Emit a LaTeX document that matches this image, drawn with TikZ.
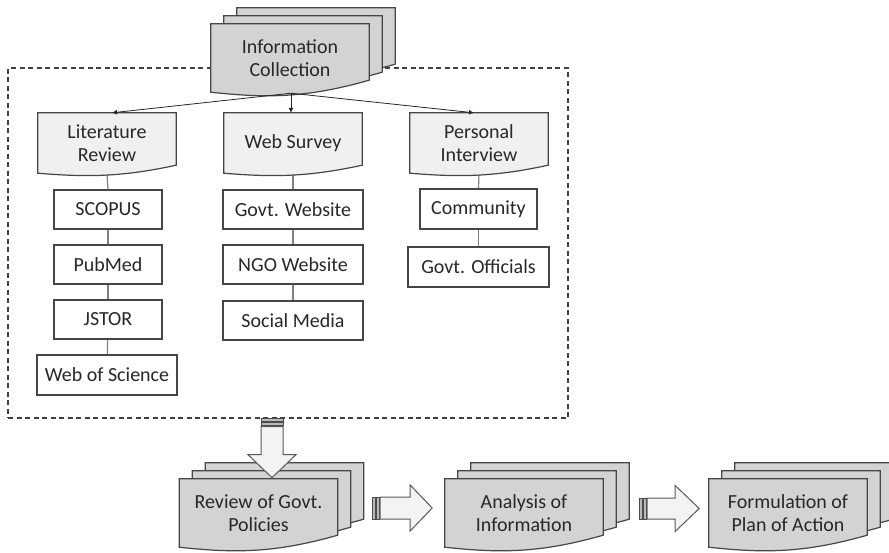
\documentclass[tikz,border=0pt]{standalone}
\usepackage{fontspec}
\setmainfont{Carlito}
\usetikzlibrary{calc,backgrounds,arrows.meta}
\definecolor{stackgray}{RGB}{211,211,211}
\definecolor{docgray}{RGB}{240,240,240}
\definecolor{arrowfill}{RGB}{243,243,243}
\definecolor{edgegray}{RGB}{70,70,70}
\definecolor{conngray}{RGB}{128,128,128}
\definecolor{txtgray}{RGB}{40,40,40}
\newcommand\txtfont{\fontsize{20}{23}\selectfont}
\tikzset{
  docline/.style={draw=edgegray,line width=1.2pt},
  textnode/.style={inner sep=0pt,align=center,font=\txtfont,text=txtgray},
  stacknode/.style={textnode,minimum width=158pt,minimum height=68pt},
  topdoc/.style={textnode,minimum width=138pt,minimum height=60pt},
  boxnode/.style={textnode,draw=edgegray,line width=1.2pt,fill=white,minimum width=#1,minimum height=39pt},
  conn/.style={draw=conngray,line width=1.2pt},
  feed/.style={draw=black!85,line width=0.8pt,-{Latex[length=5pt,width=5pt]}},
  bigarrow/.style={draw=black!65,line width=1pt,fill=arrowfill,line join=miter},
  stripe/.style={draw=black!70,line width=0.6pt,fill=gray!55},
  dashbox/.style={draw=black!75,line width=1.3pt,dash pattern=on 5pt off 3.5pt,minimum width=560pt,minimum height=350pt,inner sep=0pt}
}
% #1 node, #2 fill, #3 rise of right corner, #4 dx, #5 dy
\newcommand\docshape[5]{%
  \path[docline,fill=#2]
    ($(#1.north west)+(#4,#5)$) -- ($(#1.north east)+(#4,#5)$)
    -- ($(#1.south east)+(#4,#5-#3)$)
    .. controls ($(#1.south west)!0.6!(#1.south east)+(#4,#5+0.5*#3)$)
    and ($(#1.south west)!0.35!(#1.south east)+(#4,#5+0.5*#3)$)
    .. ($(#1.south west)+(#4,#5)$) -- cycle;}
\newcommand\stackshape[1]{%
  \docshape{#1}{stackgray}{12}{26}{-16}%
  \docshape{#1}{stackgray}{12}{13}{-8}%
  \docshape{#1}{stackgray}{12}{0}{0}}
\begin{document}
\begin{tikzpicture}[x=1pt,y=-1pt]
\useasboundingbox (0,0) rectangle (889,552);
% stacked documents
\node[stacknode] (info) at (290,58) {Information\\Collection};
\node[stacknode] (review) at (258.5,513) {Review of Govt.\\Policies};
\node[stacknode] (analysis) at (524,513) {Analysis of\\Information};
\node[stacknode] (plan) at (788,513) {Formulation of\\Plan of Action};
% second level documents
\node[topdoc] (lit) at (107,143) {Literature\\Review};
\node[topdoc] (web) at (293,143) {Web Survey};
\node[topdoc] (pers) at (479,143) {Personal\\Interview};
% boxes
\node[boxnode=108pt] (scopus) at (108,209.5) {SCOPUS};
\node[boxnode=108pt] (pubmed) at (108,264.5) {PubMed};
\node[boxnode=108pt] (jstor) at (108,319.5) {JSTOR};
\node[boxnode=140pt,minimum height=40pt] (wos) at (107,375) {Web of Science};
\node[boxnode=140pt] (govweb) at (293,209.5) {Govt. Website};
\node[boxnode=140pt] (ngo) at (293,264.5) {NGO Website};
\node[boxnode=140pt] (social) at (293,320.5) {Social Media};
\node[boxnode=117pt,minimum height=40pt] (comm) at (478.5,209) {Community};
\node[boxnode=141pt,minimum height=40pt] (offic) at (478.5,267) {Govt. Officials};
\begin{scope}[on background layer]
  \node[dashbox] (dbox) at (288,243) {};
  \draw[conn] (lit.south) -- (scopus.north);
  \draw[conn] (scopus) -- (pubmed);
  \draw[conn] (pubmed) -- (jstor);
  \draw[conn] (jstor) -- (wos);
  \draw[conn] (web.south) -- (govweb.north);
  \draw[conn] (govweb) -- (ngo);
  \draw[conn] (ngo) -- (social);
  \draw[conn] (pers.south) -- (comm.north);
  \draw[conn] (comm) -- (offic);
  \stackshape{info}
  \stackshape{review}
  \stackshape{analysis}
  \stackshape{plan}
  \docshape{lit}{docgray}{8}{0}{0}
  \docshape{web}{docgray}{8}{0}{0}
  \docshape{pers}{docgray}{8}{0}{0}
\end{scope}
% feeds from information collection
\draw[feed] ($(info.south)+(1,1)$) -- ($(lit.north)+(5,0)$);
\draw[feed] ($(info.south)+(1,1)$) -- ($(web.north)+(-2,0)$);
\draw[feed] ($(info.south)+(1,1)$) -- ($(pers.north)+(-5,0)$);
% big striped arrows
\coordinate (d1) at (dbox.south -| review.north);
\coordinate (a1) at ($(d1)+(13.5,0)$);
\draw[stripe] ($(a1)+(-11,0)$) rectangle ($(a1)+(11,3)$);
\draw[stripe] ($(a1)+(-11,4)$) rectangle ($(a1)+(11,7)$);
\draw[bigarrow] ($(a1)+(-11,8)$) -- ($(a1)+(-11,36)$) -- ($(a1)+(-24,36)$) -- ($(a1)+(0,59)$)
  -- ($(a1)+(24,36)$) -- ($(a1)+(11,36)$) -- ($(a1)+(11,8)$) -- cycle;
\coordinate (a2) at ($(review.east)+(34.5,-5)$);
\draw[stripe] ($(a2)+(0,-11)$) rectangle ($(a2)+(3,11)$);
\draw[stripe] ($(a2)+(4,-11)$) rectangle ($(a2)+(7,11)$);
\draw[bigarrow] ($(a2)+(8,-11)$) -- ($(a2)+(38,-11)$) -- ($(a2)+(38,-23)$) -- ($(a2)+(60,0)$)
  -- ($(a2)+(38,23)$) -- ($(a2)+(38,11)$) -- ($(a2)+(8,11)$) -- cycle;
\coordinate (a3) at ($(analysis.east)+(36,-4.5)$);
\draw[stripe] ($(a3)+(0,-10.5)$) rectangle ($(a3)+(3,10.5)$);
\draw[stripe] ($(a3)+(4,-10.5)$) rectangle ($(a3)+(7,10.5)$);
\draw[bigarrow] ($(a3)+(8,-10.5)$) -- ($(a3)+(36,-10.5)$) -- ($(a3)+(36,-23)$) -- ($(a3)+(60,0)$)
  -- ($(a3)+(36,23)$) -- ($(a3)+(36,10.5)$) -- ($(a3)+(8,10.5)$) -- cycle;
\end{tikzpicture}
\end{document}
